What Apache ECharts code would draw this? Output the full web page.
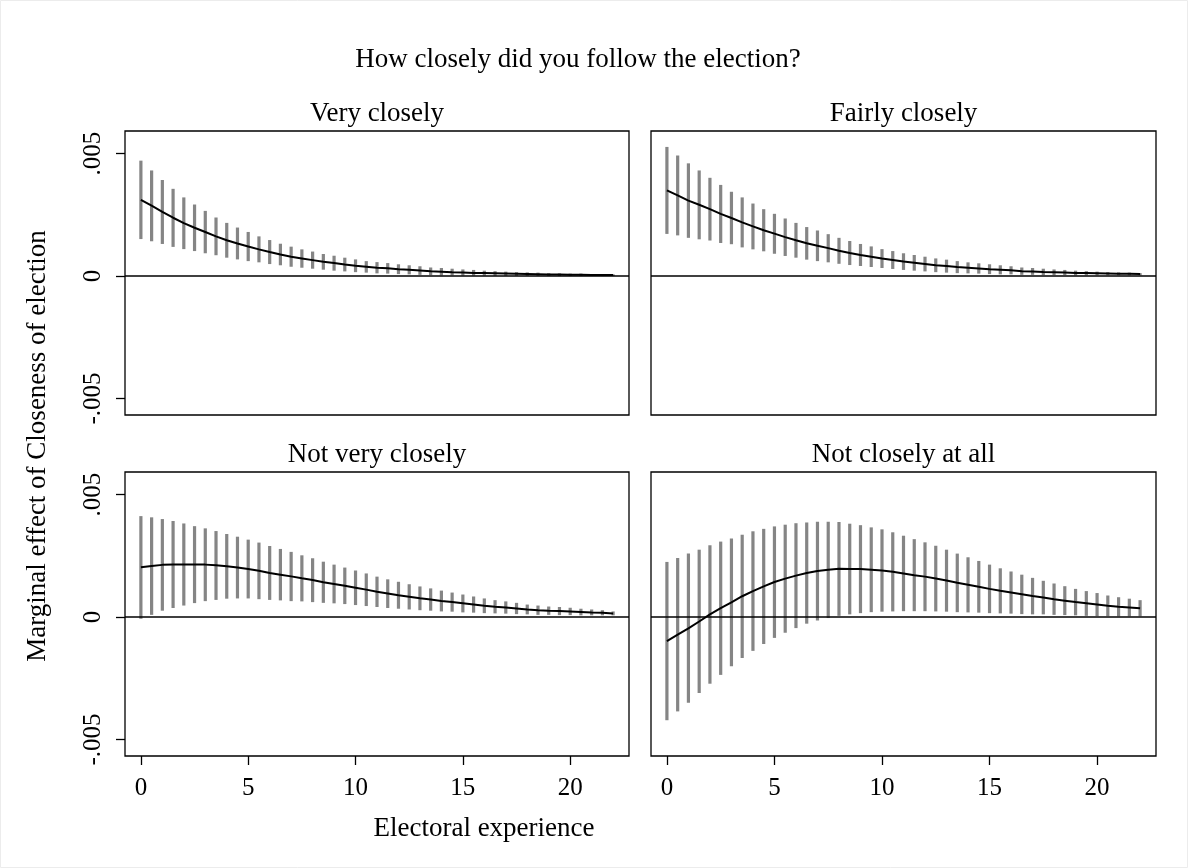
<!DOCTYPE html>
<html>
<head>
<meta charset="utf-8">
<title>Marginal effect of Closeness of election</title>
<script src="https://cdn.jsdelivr.net/npm/echarts@6/dist/echarts.min.js"></script>
<style>
  html, body { margin: 0; padding: 0; background: #ffffff; }
  #chart { width: 1188px; height: 868px; }
</style>
</head>
<body>
<div id="chart"></div>
<script>
// Electoral experience (years), evaluated every half year
const experience = [0, 0.5, 1, 1.5, 2, 2.5, 3, 3.5, 4, 4.5, 5, 5.5, 6, 6.5, 7, 7.5, 8, 8.5, 9, 9.5,
  10, 10.5, 11, 11.5, 12, 12.5, 13, 13.5, 14, 14.5, 15, 15.5, 16, 16.5, 17, 17.5, 18, 18.5, 19, 19.5,
  20, 20.5, 21, 21.5, 22];

const panelTitles = ['Very closely', 'Fairly closely', 'Not very closely', 'Not closely at all'];

const xTicks = [0, 5, 10, 15, 20];
const yTicks = [-0.005, 0, 0.005];

// Very closely
const veryEst = [0.00311,0.00287,0.00262,0.00238,0.00216,0.00197,0.00180,0.00162,0.00146,0.00133,
  0.00121,0.00109,0.00098,0.00088,0.00079,0.00072,0.00065,0.00058,0.00053,0.00047,
  0.00042,0.00038,0.00034,0.00032,0.00028,0.00026,0.00023,0.00020,0.00018,0.00016,
  0.00015,0.00013,0.00012,0.00011,0.00010,0.00009,0.00008,0.00007,0.00006,0.00006,
  0.00005,0.00005,0.00004,0.00004,0.00004];
const veryLo = [0.00151,0.00142,0.00131,0.00119,0.00110,0.00102,0.00093,0.00085,0.00075,0.00068,
  0.00061,0.00056,0.00049,0.00044,0.00038,0.00034,0.00030,0.00026,0.00022,0.00019,
  0.00016,0.00014,0.00011,0.00010,0.00008,0.00007,0.00005,0.00004,0.00003,0.00003,
  0.00002,0.00002,0.00002,0.00001,0.00001,0.00001,0.00001,0.00001,0.00000,0.00000,
  0.00000,0.00000,0.00000,0.00000,0.00000];
const veryHi = [0.00471,0.00431,0.00392,0.00356,0.00321,0.00292,0.00266,0.00239,0.00217,0.00198,
  0.00180,0.00162,0.00147,0.00132,0.00120,0.00109,0.00100,0.00090,0.00083,0.00075,
  0.00068,0.00061,0.00057,0.00053,0.00048,0.00044,0.00040,0.00035,0.00033,0.00030,
  0.00027,0.00025,0.00022,0.00020,0.00018,0.00016,0.00015,0.00014,0.00012,0.00011,
  0.00010,0.00010,0.00008,0.00008,0.00007];

// Fairly closely
const fairlyEst = [0.00350,0.00329,0.00308,0.00291,0.00273,0.00254,0.00237,0.00219,0.00203,0.00187,
  0.00173,0.00159,0.00146,0.00134,0.00124,0.00114,0.00103,0.00094,0.00086,0.00079,
  0.00072,0.00066,0.00059,0.00054,0.00049,0.00044,0.00041,0.00037,0.00034,0.00031,
  0.00028,0.00026,0.00024,0.00020,0.00019,0.00017,0.00016,0.00015,0.00013,0.00012,
  0.00011,0.00010,0.00009,0.00009,0.00008];
const fairlyLo = [0.00172,0.00166,0.00156,0.00150,0.00145,0.00135,0.00130,0.00117,0.00109,0.00101,
  0.00091,0.00082,0.00075,0.00067,0.00061,0.00056,0.00050,0.00045,0.00041,0.00037,
  0.00033,0.00029,0.00025,0.00022,0.00019,0.00016,0.00014,0.00012,0.00011,0.00010,
  0.00008,0.00007,0.00007,0.00005,0.00005,0.00004,0.00004,0.00004,0.00003,0.00003,
  0.00003,0.00003,0.00003,0.00003,0.00003];
const fairlyHi = [0.00527,0.00492,0.00460,0.00431,0.00401,0.00372,0.00344,0.00321,0.00296,0.00273,
  0.00254,0.00235,0.00217,0.00200,0.00186,0.00171,0.00156,0.00143,0.00131,0.00121,
  0.00110,0.00102,0.00093,0.00086,0.00079,0.00072,0.00067,0.00061,0.00056,0.00052,
  0.00048,0.00044,0.00040,0.00035,0.00033,0.00030,0.00027,0.00025,0.00022,0.00020,
  0.00018,0.00016,0.00015,0.00014,0.00012];

// Not very closely
const notVeryEst = [0.00203,0.00208,0.00213,0.00215,0.00215,0.00214,0.00214,0.00211,0.00207,0.00202,
  0.00196,0.00189,0.00180,0.00173,0.00166,0.00158,0.00151,0.00142,0.00135,0.00128,
  0.00120,0.00112,0.00103,0.00096,0.00089,0.00083,0.00077,0.00072,0.00066,0.00061,
  0.00056,0.00051,0.00046,0.00042,0.00039,0.00035,0.00031,0.00028,0.00026,0.00025,
  0.00023,0.00021,0.00019,0.00018,0.00015];
const notVeryLo = [-0.00007,0.00009,0.00026,0.00037,0.00047,0.00057,0.00065,0.00070,0.00075,0.00076,
  0.00076,0.00073,0.00070,0.00068,0.00065,0.00064,0.00061,0.00058,0.00056,0.00053,
  0.00049,0.00045,0.00041,0.00037,0.00034,0.00031,0.00028,0.00026,0.00023,0.00022,
  0.00019,0.00018,0.00016,0.00015,0.00014,0.00012,0.00011,0.00009,0.00009,0.00008,
  0.00008,0.00007,0.00007,0.00007,0.00007];
const notVeryHi = [0.00412,0.00407,0.00400,0.00392,0.00382,0.00371,0.00362,0.00351,0.00339,0.00328,
  0.00316,0.00304,0.00290,0.00278,0.00266,0.00252,0.00240,0.00226,0.00214,0.00202,
  0.00190,0.00178,0.00165,0.00154,0.00144,0.00134,0.00125,0.00117,0.00108,0.00100,
  0.00092,0.00084,0.00076,0.00069,0.00064,0.00058,0.00051,0.00047,0.00043,0.00041,
  0.00038,0.00034,0.00031,0.00028,0.00023];

// Not closely at all
const notAtAllEst = [-0.00098,-0.00072,-0.00046,-0.00018,0.00011,0.00036,0.00060,0.00085,0.00106,0.00125,
  0.00143,0.00157,0.00169,0.00180,0.00188,0.00193,0.00197,0.00196,0.00196,0.00193,
  0.00190,0.00185,0.00178,0.00171,0.00165,0.00157,0.00149,0.00140,0.00132,0.00124,
  0.00115,0.00107,0.00100,0.00093,0.00086,0.00080,0.00073,0.00067,0.00061,0.00056,
  0.00051,0.00046,0.00042,0.00039,0.00036];
const notAtAllLo = [-0.00421,-0.00385,-0.00350,-0.00310,-0.00272,-0.00236,-0.00201,-0.00167,-0.00138,-0.00110,
  -0.00085,-0.00064,-0.00045,-0.00027,-0.00014,-0.00004,0.00005,0.00011,0.00016,0.00020,
  0.00022,0.00023,0.00024,0.00024,0.00024,0.00023,0.00022,0.00020,0.00019,0.00018,
  0.00016,0.00015,0.00014,0.00012,0.00011,0.00011,0.00009,0.00008,0.00007,0.00005,
  0.00004,0.00004,0.00003,0.00003,0.00003];
const notAtAllHi = [0.00225,0.00241,0.00259,0.00275,0.00293,0.00308,0.00321,0.00336,0.00350,0.00360,
  0.00370,0.00377,0.00383,0.00386,0.00389,0.00389,0.00388,0.00381,0.00375,0.00366,
  0.00358,0.00346,0.00332,0.00318,0.00305,0.00291,0.00275,0.00259,0.00244,0.00229,
  0.00214,0.00199,0.00186,0.00173,0.00160,0.00148,0.00137,0.00126,0.00115,0.00106,
  0.00098,0.00088,0.00081,0.00075,0.00069];

const panels = [
  { title: panelTitles[0], est: veryEst, lo: veryLo, hi: veryHi },
  { title: panelTitles[1], est: fairlyEst, lo: fairlyLo, hi: fairlyHi },
  { title: panelTitles[2], est: notVeryEst, lo: notVeryLo, hi: notVeryHi },
  { title: panelTitles[3], est: notAtAllEst, lo: notAtAllLo, hi: notAtAllHi }
];

const FONT = '"Liberation Serif", "Times New Roman", serif';
const TICK_SIZE = 25;
const TEXT_SIZE = 27;

// 2x2 layout: [left, top, width, height]
const boxes = [
  [125, 131, 504, 284],
  [651, 131, 505, 284],
  [125, 472, 504, 284],
  [651, 472, 505, 284]
];

const grids = [], xAxes = [], yAxes = [], series = [], graphics = [];

panels.forEach((p, i) => {
  const [l, t, w, h] = boxes[i];
  const isBottom = i >= 2;
  const isLeft = i % 2 === 0;

  grids.push({
    left: l, top: t, width: w, height: h,
    show: true, borderColor: '#000', borderWidth: 1.3, backgroundColor: '#fff'
  });

  xAxes.push({
    gridIndex: i, type: 'value', min: -0.74, max: 22.74, position: 'bottom',
    axisLine: { show: false, onZero: false },
    splitLine: { show: false },
    axisTick: { show: isBottom, customValues: xTicks, length: 9, lineStyle: { color: '#000', width: 1.3 } },
    axisLabel: { show: isBottom, customValues: xTicks, margin: 20, color: '#000',
      fontFamily: FONT, fontSize: TICK_SIZE }
  });

  yAxes.push({
    gridIndex: i, type: 'value', min: -0.00567, max: 0.00592, position: 'left',
    axisLine: { show: false, onZero: false },
    splitLine: { show: false },
    axisTick: { show: isLeft, customValues: yTicks, length: 9, lineStyle: { color: '#000', width: 1.3 } },
    axisLabel: {
      show: isLeft, customValues: yTicks, rotate: 90, margin: 19, color: '#000',
      fontFamily: FONT, fontSize: TICK_SIZE,
      formatter: v => (v === 0 ? '0' : (v < 0 ? '-' : '') + String(Math.abs(v)).replace(/^0/, ''))
    }
  });

  // confidence intervals as thin vertical bars
  series.push({
    type: 'custom', xAxisIndex: i, yAxisIndex: i, silent: true, z: 2,
    data: experience.map((x, k) => [x, p.lo[k], p.hi[k]]),
    encode: { x: 0, y: [1, 2] },
    renderItem: (params, api) => {
      const top = api.coord([api.value(0), api.value(2)]);
      const bot = api.coord([api.value(0), api.value(1)]);
      const bw = 3.2;
      return {
        type: 'rect',
        shape: { x: top[0] - bw / 2, y: top[1], width: bw, height: bot[1] - top[1] },
        style: { fill: '#858585' }
      };
    }
  });

  // point estimate plus zero reference line
  series.push({
    type: 'line', xAxisIndex: i, yAxisIndex: i, silent: true, z: 3,
    data: experience.map((x, k) => [x, p.est[k]]),
    showSymbol: false, symbol: 'none',
    lineStyle: { color: '#000', width: 2 },
    markLine: {
      silent: true, symbol: 'none', label: { show: false },
      lineStyle: { color: '#000', width: 1.6, type: 'solid' },
      data: [{ yAxis: 0 }],
      animation: false
    },
    animation: false
  });

  graphics.push({
    type: 'text', x: l + w / 2, y: t - 17,
    style: { text: p.title, fill: '#000', font: TEXT_SIZE + 'px ' + FONT, align: 'center', verticalAlign: 'middle' }
  });
});

// faint outline of the whole graph region
graphics.push({
  type: 'rect', z: -10, silent: true,
  shape: { x: 0.5, y: 0.5, width: 1187, height: 867 },
  style: { fill: 'none', stroke: '#ececec', lineWidth: 1 }
});
graphics.push({
  type: 'text', x: 578, y: 60,
  style: { text: 'How closely did you follow the election?', fill: '#000',
    font: TEXT_SIZE + 'px ' + FONT, align: 'center', verticalAlign: 'middle' }
});
graphics.push({
  type: 'text', x: 484, y: 829,
  style: { text: 'Electoral experience', fill: '#000',
    font: TEXT_SIZE + 'px ' + FONT, align: 'center', verticalAlign: 'middle' }
});
graphics.push({
  type: 'text', x: 38, y: 446, rotation: Math.PI / 2,
  style: { text: 'Marginal effect of Closeness of election', fill: '#000',
    font: TEXT_SIZE + 'px ' + FONT, align: 'center', verticalAlign: 'middle' }
});

const chart = echarts.init(document.getElementById('chart'), null, { renderer: 'canvas' });
chart.setOption({
  backgroundColor: '#ffffff',
  animation: false,
  grid: grids,
  xAxis: xAxes,
  yAxis: yAxes,
  series: series,
  graphic: graphics
});
</script>
</body>
</html>
